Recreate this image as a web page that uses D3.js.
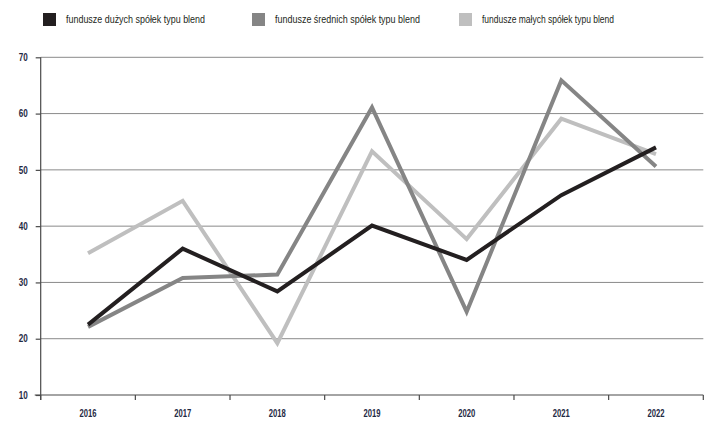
<!DOCTYPE html>
<html>
<head>
<meta charset="utf-8">
<script src="https://cdn.jsdelivr.net/npm/d3@7"></script>
<style>
  html, body { margin: 0; padding: 0; background: #fff; }
  svg text { font-family: "Liberation Sans Narrow", "Arial Narrow", "Liberation Sans", sans-serif; }
</style>
</head>
<body>
<svg id="chart" width="714" height="431"></svg>
<script>
const years = ["2016", "2017", "2018", "2019", "2020", "2021", "2022"];
const seriesNames = [
  "fundusze dużych spółek typu blend",
  "fundusze średnich spółek typu blend",
  "fundusze małych spółek typu blend"
];
const seriesColors = ["#231f20", "#858585", "#bfbfbf"];
const largeCap = [22.5, 36.0, 28.4, 40.1, 34.0, 45.5, 54.0];
const midCap   = [22.1, 30.8, 31.4, 61.1, 24.8, 65.9, 50.6];
const smallCap = [35.2, 44.5, 19.2, 53.3, 37.7, 59.1, 52.8];
const yTicks = [10, 20, 30, 40, 50, 60, 70];

const seriesValues = [largeCap, midCap, smallCap];

(function () {
const svg = d3.select("#chart");
const mLeft = 40.7, mRight = 703.3, mTop = 57.3, mBottom = 395;

const x = d3.scaleBand().domain(years).range([mLeft, mRight]).padding(0);
const y = d3.scaleLinear().domain([10, 70]).range([mBottom, mTop]);

// gridlines
svg.append("g")
  .selectAll("line")
  .data(yTicks.filter(t => t > 10))
  .join("line")
  .attr("x1", mLeft).attr("x2", mRight)
  .attr("y1", d => y(d)).attr("y2", d => y(d))
  .attr("stroke", "#8a8a8a").attr("stroke-width", 1);

// y axis
const yAxis = svg.append("g")
  .attr("transform", `translate(${mLeft},0)`)
  .call(d3.axisLeft(y).tickValues(yTicks).tickSize(5).tickPadding(8).tickFormat(d3.format("d")));
yAxis.select(".domain").attr("stroke", "#4a4a4a").attr("stroke-width", 1.2)
  .attr("d", `M0,${mTop}V${mBottom + 5}`);
yAxis.selectAll(".tick line").attr("stroke", "#4a4a4a").attr("stroke-width", 1.2);
yAxis.selectAll(".tick text").attr("fill", "#1f2a44").attr("font-size", 10).attr("font-weight", "bold")
  .attr("textLength", 9).attr("lengthAdjust", "spacingAndGlyphs");

// x axis
const xAxis = svg.append("g")
  .attr("transform", `translate(0,${mBottom})`)
  .call(d3.axisBottom(x).tickSize(0).tickPadding(15));
xAxis.select(".domain").attr("stroke", "#4a4a4a").attr("stroke-width", 1.2)
  .attr("d", `M${mLeft - 6},0H${mRight}`);
xAxis.selectAll(".tick text").attr("fill", "#1f2a44").attr("font-size", 10).attr("font-weight", "bold")
  .attr("textLength", 17).attr("lengthAdjust", "spacingAndGlyphs");
// boundary ticks
svg.append("g")
  .selectAll("line")
  .data(years.map(d => x(d)).concat([x(years[years.length - 1]) + x.bandwidth()]))
  .join("line")
  .attr("x1", d => d).attr("x2", d => d)
  .attr("y1", mBottom).attr("y2", mBottom + 5)
  .attr("stroke", "#4a4a4a").attr("stroke-width", 1.2);

// lines
const line = d3.line()
  .x((d, i) => x(years[i]) + x.bandwidth() / 2)
  .y(d => y(d));

[2, 1, 0].forEach(k => {
  svg.append("path")
    .datum(seriesValues[k])
    .attr("d", line)
    .attr("fill", "none")
    .attr("stroke", seriesColors[k])
    .attr("stroke-width", 4)
    .attr("stroke-linejoin", "miter")
    .attr("stroke-miterlimit", 10);
});

// legend
const legendX = [43, 252, 459];
const legendW = [139, 145, 132];
const legend = svg.append("g");
seriesNames.forEach((name, i) => {
  const g = legend.append("g").attr("transform", `translate(${legendX[i]},13)`);
  g.append("rect").attr("width", 13).attr("height", 13).attr("fill", seriesColors[i]);
  g.append("text").attr("x", 23).attr("y", 10)
    .attr("font-size", 10.5).attr("fill", "#231f20")
    .attr("textLength", legendW[i]).attr("lengthAdjust", "spacingAndGlyphs")
    .text(name);
});
})();
</script>
</body>
</html>
